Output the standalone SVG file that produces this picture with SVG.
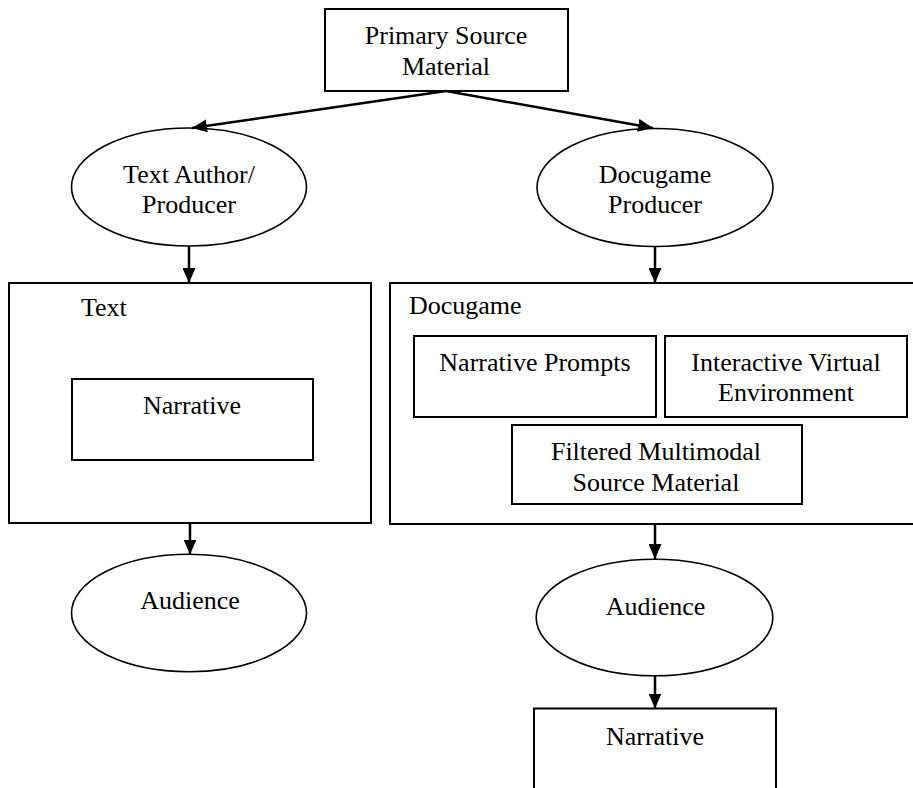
<svg xmlns="http://www.w3.org/2000/svg" width="913" height="788" viewBox="0 0 913 788">
<style>
  .box { fill: #fff; stroke: #000; stroke-width: 2; }
  .ell { fill: #fff; stroke: #000; stroke-width: 1.6; }
  .lbl { font-family: "Liberation Serif", "Times New Roman", serif; font-size: 26px; fill: #000; }
  .c { text-anchor: middle; }
  .conn { stroke: #000; stroke-width: 2.5; fill: none; marker-end: url(#arrow); }
</style>
<defs>
  <marker id="arrow" markerUnits="userSpaceOnUse" markerWidth="15" markerHeight="13" refX="15" refY="6.5" orient="auto">
    <path d="M0,0 L15,6.5 L0,13 z" fill="#000"/>
  </marker>
</defs>
<rect width="913" height="788" fill="#fff"/>

<g id="primary-source">
  <rect class="box" x="325" y="9" width="243" height="82"/>
  <text class="lbl c" x="446" y="44">Primary Source</text>
  <text class="lbl c" x="446" y="75">Material</text>
</g>

<g id="text-author">
  <ellipse class="ell" cx="189" cy="187" rx="117.5" ry="59"/>
  <text class="lbl c" x="189" y="183">Text Author/</text>
  <text class="lbl c" x="189" y="213">Producer</text>
</g>

<g id="docugame-producer">
  <ellipse class="ell" cx="655" cy="187.5" rx="118" ry="59"/>
  <text class="lbl c" x="655" y="183">Docugame</text>
  <text class="lbl c" x="655" y="213">Producer</text>
</g>

<g id="text-box">
  <rect class="box" x="9" y="283" width="362" height="240"/>
  <text class="lbl" x="81" y="316">Text</text>
</g>

<g id="text-narrative">
  <rect class="box" x="72" y="379" width="241" height="81"/>
  <text class="lbl c" x="192" y="414">Narrative</text>
</g>

<g id="docugame-box">
  <rect class="box" x="390" y="283" width="540" height="241"/>
  <text class="lbl" x="409" y="314">Docugame</text>
</g>

<g id="narrative-prompts">
  <rect class="box" x="414" y="336" width="242" height="81"/>
  <text class="lbl c" x="535" y="371">Narrative Prompts</text>
</g>

<g id="interactive-env">
  <rect class="box" x="665" y="336" width="242" height="81"/>
  <text class="lbl c" x="786" y="371">Interactive Virtual</text>
  <text class="lbl c" x="786" y="401">Environment</text>
</g>

<g id="filtered-source">
  <rect class="box" x="512" y="425" width="290" height="79"/>
  <text class="lbl c" x="656" y="460">Filtered Multimodal</text>
  <text class="lbl c" x="656" y="490.5">Source Material</text>
</g>

<g id="audience-left">
  <ellipse class="ell" cx="189" cy="613" rx="117.5" ry="58.7"/>
  <text class="lbl c" x="190" y="609">Audience</text>
</g>

<g id="audience-right">
  <ellipse class="ell" cx="654.5" cy="617.5" rx="118.3" ry="58.3"/>
  <text class="lbl c" x="655.5" y="615">Audience</text>
</g>

<g id="docugame-narrative">
  <rect class="box" x="534" y="708.5" width="242" height="100"/>
  <text class="lbl c" x="655" y="745">Narrative</text>
</g>

<g id="connectors">
  <line class="conn" x1="446" y1="91" x2="192" y2="128"/>
  <line class="conn" x1="446" y1="91" x2="653" y2="128"/>
  <line class="conn" x1="189" y1="246" x2="189" y2="283"/>
  <line class="conn" x1="655" y1="246.5" x2="655" y2="283"/>
  <line class="conn" x1="190" y1="523" x2="190" y2="554.5"/>
  <line class="conn" x1="655" y1="524" x2="655" y2="559"/>
  <line class="conn" x1="655" y1="676" x2="655" y2="708.5"/>
</g>
</svg>
